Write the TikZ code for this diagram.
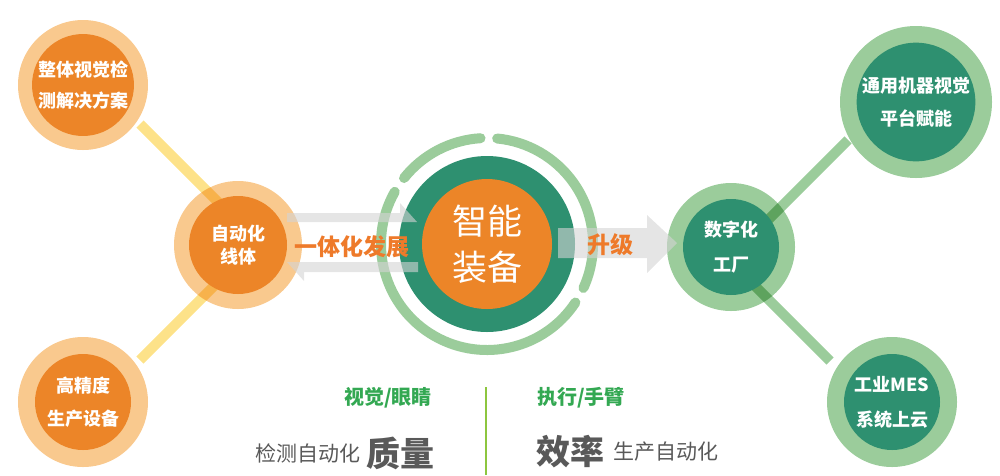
\documentclass[tikz,border=0pt]{standalone}
\usepackage{fontspec}
\setmainfont{Noto Sans CJK SC}
\usetikzlibrary{positioning}
\definecolor{naranja}{HTML}{EC8528}
\definecolor{naranjaclaro}{HTML}{F9C98E}
\definecolor{amarillo}{HTML}{FDE289}
\definecolor{verde}{HTML}{2E9070}
\definecolor{verdeclaro}{HTML}{9BCC9B}
\definecolor{gris}{HTML}{595959}
\definecolor{grisflecha}{HTML}{D4D4D4}
\definecolor{verdetexto}{HTML}{33A852}
\definecolor{lineaverde}{HTML}{8DC63F}
\definecolor{naranjatexto}{HTML}{EE7A2A}
\begin{document}
\begin{tikzpicture}[x=1pt, y=-1pt,
  anillo/.style={circle, inner sep=0pt, minimum size=#1},
  rotulo/.style={text=white, align=center, font=\fontsize{18}{#1}\selectfont\bfseries},
  enlace/.style={line width=10pt},
  flecha/.style={fill=grisflecha, opacity=0.6},
  lema/.style={text=naranjatexto, inner sep=0pt, font=\fontsize{23}{23}\selectfont\bfseries},
  ojo/.style={text=verdetexto, inner sep=0pt, font=\fontsize{20}{20}\selectfont\bfseries},
  pie/.style={text=gris, inner sep=0pt, font=\fontsize{21}{21}\selectfont},
  piegrande/.style={text=gris, inner sep=0pt, font=\fontsize{34}{34}\selectfont\bfseries}]
  \useasboundingbox (0,0) rectangle (1000,475);
  % los anillos claros de los seis circulos
  \node[anillo=130, fill=naranjaclaro] (tlo) at (83,85) {};
  \node[anillo=130, fill=naranjaclaro] (blo) at (83,402) {};
  \node[anillo=128, fill=naranjaclaro] (mlo) at (238,245) {};
  \node[anillo=128, fill=verdeclaro] (mro) at (731,247) {};
  \node[anillo=152, fill=verdeclaro] (tro) at (916,102) {};
  \node[anillo=130, fill=verdeclaro] (bro) at (892,402) {};
  % los enlaces, que se oscurecen al pasar sobre los anillos
  \begin{scope}[blend mode=multiply]
    \draw[enlace, amarillo] ([shift={(57,39)}]tlo.center) -- ([shift={(7,-16)}]mlo.center);
    \draw[enlace, amarillo] ([shift={(57,-42)}]blo.center) -- ([shift={(12,5)}]mlo.center);
    \draw[enlace, verdeclaro] ([shift={(-68,38)}]tro.center) -- ([shift={(9,1)}]mro.center);
    \draw[enlace, verdeclaro] ([shift={(-62,-41)}]bro.center) -- ([shift={(14,29)}]mro.center);
  \end{scope}
  % los circulos interiores con sus textos
  \node[anillo=96, fill=naranja, rotulo=31] (tl) at (83,85) {整体视觉检\\测解决方案};
  \node[anillo=96, fill=naranja, rotulo=33] (bl) at (83,402) {高精度\\生产设备};
  \node[anillo=98, fill=naranja, rotulo=23] (ml) at (238,245) {自动化\\线体};
  \node[anillo=96, fill=verde, rotulo=35] (mr) at (731,247) {数字化\\工厂};
  \node[anillo=112, fill=verde, rotulo=33] (tr) at (916,102) {通用机器视觉\\平台赋能};
  \node[anillo=96, fill=verde, rotulo=35] (br) at (892,402) {工业MES\\系统上云};
  % el circulo central, con su anillo partido
  \node[anillo=176, fill=verde] (cenv) at (487,244) {};
  \node[anillo=130, fill=naranja, text=white, align=center,
        font=\fontsize{35}{46}\selectfont] (cen) at (487,244) {智能\\装备};
  \foreach \a/\b in {93.5/141.5, -24.5/84.5, 150.5/326.5}
    \draw[verdeclaro, line width=10pt, line cap=round]
      ([shift={(-\a:106)}]cenv.center) arc[start angle=-\a, end angle=-\b, radius=106];
  % las flechas grises
  \fill[flecha] (287,213) -- (400,213) -- (400,203) -- (417,222) -- (287,222) -- cycle;
  \fill[flecha] (418,262) -- (287,262) -- (304,281) -- (304,272) -- (418,272) -- cycle;
  \fill[flecha] (558,228) -- (647,228) -- (647,215) -- (677,243) -- (647,273) -- (647,258)
    -- (558,258) -- cycle;
  \node[lema] (yt) at (352,247) {一体化发展};
  \node[lema] (sj) at (610,245) {升级};
  % el pie, partido por una raya
  \draw[lineaverde, line width=2pt] (486,387) -- (486,475);
  \node[ojo] (vs) at (388,398) {视觉/眼睛};
  \node[ojo] (zx) at (581,398) {执行/手臂};
  \node[pie] (jc) at (308,453) {检测自动化};
  \node[piegrande, right=6pt of jc] (zl) {质量};
  \node[piegrande] (xl) at (570,452) {效率};
  \node[pie, right=9pt of xl] (sc) {生产自动化};
\end{tikzpicture}
\end{document}
